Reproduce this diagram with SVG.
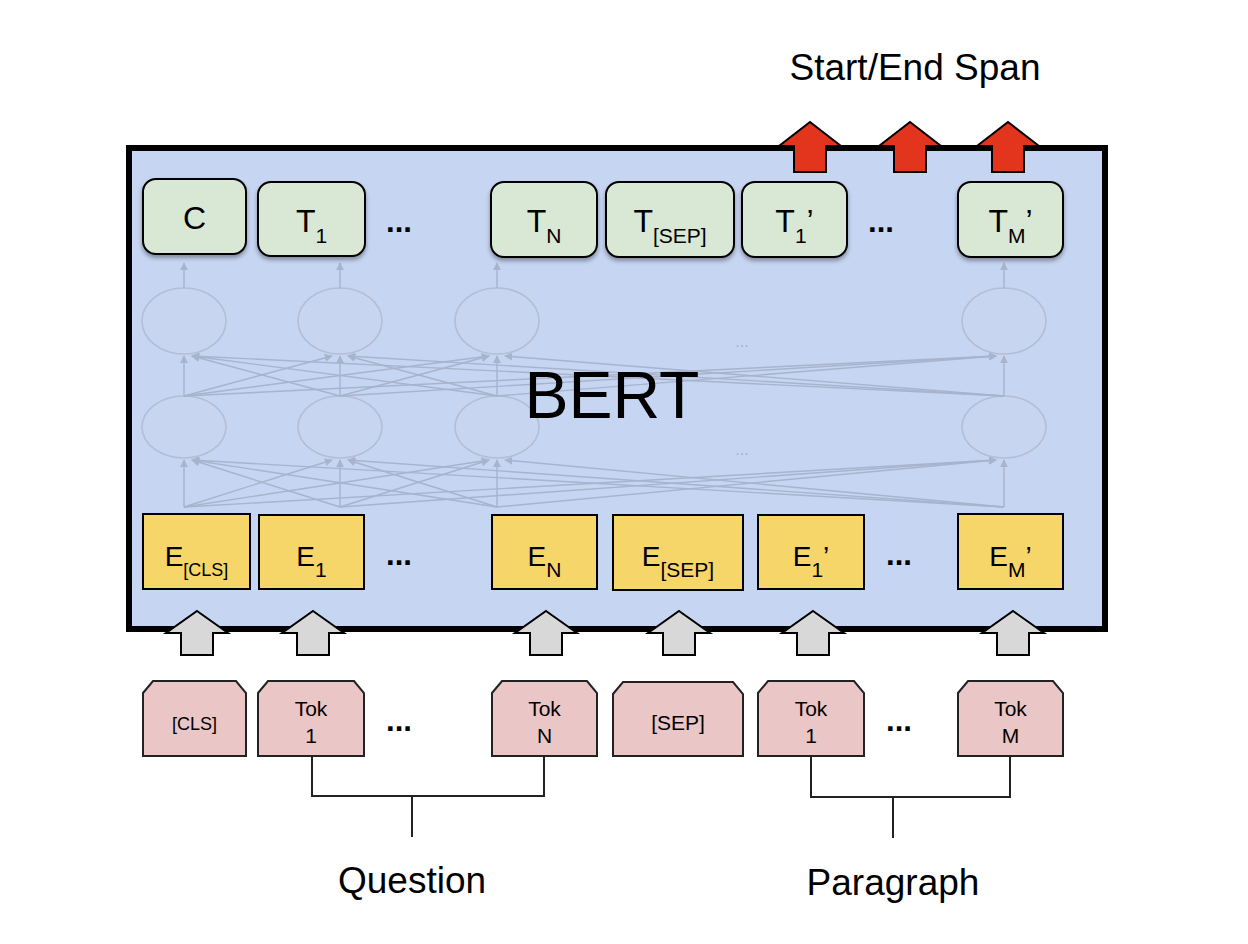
<svg xmlns="http://www.w3.org/2000/svg" width="1248" height="944" viewBox="0 0 1248 944">
<defs>
<style>
text{font-family:"Liberation Sans",Arial,Helvetica,sans-serif;fill:#000}
.tbox{fill:#d9e8d4;stroke:#000;stroke-width:2;filter:url(#sh)}
.ebox{fill:#f6d669;stroke:#000;stroke-width:2}
.tok{fill:#eac6c6;stroke:#222;stroke-width:2}
.ell{fill:#c8d5f1;stroke:#b3bdd3;stroke-width:1.6}
.net line{stroke:#a8b3cc;stroke-width:1.4;marker-end:url(#ah)}
.gar{fill:#d8d8d8;stroke:#000;stroke-width:2;stroke-linejoin:miter}
.rar{fill:#e3351e;stroke:#000;stroke-width:2;stroke-linejoin:miter}
.brk{fill:none;stroke:#222;stroke-width:2}
.big{font-size:32px}
.sub{font-size:21px}
.dots{font-size:31px;font-weight:bold}
.lab{font-size:37px}
.tk{font-size:21px}
</style>
<filter id="sh" x="-20%" y="-20%" width="140%" height="150%">
<feDropShadow dx="0" dy="3" stdDeviation="2" flood-color="#000" flood-opacity="0.35"/>
</filter>
<marker id="ah" viewBox="0 0 10 10" refX="9" refY="5" markerWidth="8" markerHeight="8" markerUnits="userSpaceOnUse" orient="auto">
<path d="M0,0 L10,5 L0,10 Z" fill="#a8b3cc"/>
</marker>
</defs>
<rect width="1248" height="944" fill="#fff"/>

<g id="bert">
<rect x="129" y="148" width="976" height="481" fill="#c6d5f2" stroke="#000" stroke-width="6"/>
</g>

<g id="network">
<ellipse class="ell" cx="184" cy="321" rx="42" ry="33"/>
<ellipse class="ell" cx="340" cy="321" rx="42" ry="33"/>
<ellipse class="ell" cx="497" cy="321" rx="42" ry="33"/>
<ellipse class="ell" cx="1004" cy="321" rx="42" ry="33"/>
<ellipse class="ell" cx="184" cy="427" rx="42" ry="31"/>
<ellipse class="ell" cx="340" cy="427" rx="42" ry="31"/>
<ellipse class="ell" cx="497" cy="427" rx="42" ry="31"/>
<ellipse class="ell" cx="1004" cy="427" rx="42" ry="31"/>
<text x="742" y="347" font-size="16" text-anchor="middle" style="fill:#a8b3cc">...</text>
<text x="742" y="455" font-size="16" text-anchor="middle" style="fill:#a8b3cc">...</text>
</g>

<g id="connectors" class="net">
<line x1="184" y1="288" x2="184" y2="263"/>
<line x1="340" y1="288" x2="340" y2="263"/>
<line x1="497" y1="288" x2="497" y2="263"/>
<line x1="1004" y1="288" x2="1004" y2="263"/>
<line x1="184" y1="396" x2="184" y2="356"/>
<line x1="340" y1="396" x2="340" y2="356"/>
<line x1="497" y1="396" x2="497" y2="356"/>
<line x1="1004" y1="396" x2="1004" y2="356"/>
<line x1="184" y1="396" x2="332" y2="356"/>
<line x1="184" y1="396" x2="489" y2="356"/>
<line x1="184" y1="396" x2="996" y2="356"/>
<line x1="340" y1="396" x2="192" y2="356"/>
<line x1="340" y1="396" x2="489" y2="356"/>
<line x1="340" y1="396" x2="996" y2="356"/>
<line x1="497" y1="396" x2="192" y2="356"/>
<line x1="497" y1="396" x2="348" y2="356"/>
<line x1="497" y1="396" x2="996" y2="356"/>
<line x1="1004" y1="396" x2="192" y2="356"/>
<line x1="1004" y1="396" x2="348" y2="356"/>
<line x1="1004" y1="396" x2="505" y2="356"/>
<line x1="184" y1="507" x2="184" y2="460"/>
<line x1="340" y1="507" x2="340" y2="460"/>
<line x1="497" y1="507" x2="497" y2="460"/>
<line x1="1004" y1="507" x2="1004" y2="460"/>
<line x1="184" y1="507" x2="332" y2="460"/>
<line x1="184" y1="507" x2="489" y2="460"/>
<line x1="184" y1="507" x2="996" y2="460"/>
<line x1="340" y1="507" x2="192" y2="460"/>
<line x1="340" y1="507" x2="489" y2="460"/>
<line x1="340" y1="507" x2="996" y2="460"/>
<line x1="497" y1="507" x2="192" y2="460"/>
<line x1="497" y1="507" x2="348" y2="460"/>
<line x1="497" y1="507" x2="996" y2="460"/>
<line x1="1004" y1="507" x2="192" y2="460"/>
<line x1="1004" y1="507" x2="348" y2="460"/>
<line x1="1004" y1="507" x2="505" y2="460"/>
</g>

<g id="bert-label">
<text x="612" y="418" font-size="66" text-anchor="middle">BERT</text>
</g>

<g id="t-row">
<g id="t-c"><rect class="tbox" x="143" y="179" width="103" height="75" rx="13"/><text class="big" x="194.5" y="229" text-anchor="middle">C</text></g>
<g id="t-1"><rect class="tbox" x="258" y="182" width="107" height="74" rx="13"/><text class="big" x="311.5" y="232" text-anchor="middle">T<tspan class="sub" dy="11">1</tspan></text></g>
<text class="dots" x="399" y="232" text-anchor="middle">...</text>
<g id="t-n"><rect class="tbox" x="491" y="182" width="106" height="75" rx="13"/><text class="big" x="544" y="232" text-anchor="middle">T<tspan class="sub" dy="11">N</tspan></text></g>
<g id="t-sep"><rect class="tbox" x="606" y="182" width="128" height="75" rx="13"/><text class="big" x="670" y="232" text-anchor="middle">T<tspan class="sub" dy="11">[SEP]</tspan></text></g>
<g id="t-1p"><rect class="tbox" x="742" y="182" width="105" height="75" rx="13"/><text class="big" x="794.5" y="232" text-anchor="middle">T<tspan class="sub" dy="11">1</tspan><tspan dy="-11">’</tspan></text></g>
<text class="dots" x="881" y="232" text-anchor="middle">...</text>
<g id="t-mp"><rect class="tbox" x="958" y="182" width="105" height="75" rx="13"/><text class="big" x="1010.5" y="232" text-anchor="middle">T<tspan class="sub" dy="11">M</tspan><tspan dy="-11">’</tspan></text></g>
</g>

<g id="e-row">
<g id="e-cls"><rect class="ebox" x="143" y="514" width="107" height="75"/><text font-size="28" x="196.5" y="566" text-anchor="middle">E<tspan font-size="18" dy="10">[CLS]</tspan></text></g>
<g id="e-1"><rect class="ebox" x="259" y="515" width="105" height="74"/><text font-size="28" x="311.5" y="566" text-anchor="middle">E<tspan class="sub" dy="11">1</tspan></text></g>
<text class="dots" x="399" y="565" text-anchor="middle">...</text>
<g id="e-n"><rect class="ebox" x="492" y="515" width="105" height="74"/><text font-size="28" x="544.5" y="566" text-anchor="middle">E<tspan class="sub" dy="11">N</tspan></text></g>
<g id="e-sep"><rect class="ebox" x="613" y="515" width="130" height="75"/><text font-size="28" x="678" y="566" text-anchor="middle">E<tspan class="sub" dy="11">[SEP]</tspan></text></g>
<g id="e-1p"><rect class="ebox" x="758" y="515" width="106" height="74"/><text font-size="28" x="811" y="566" text-anchor="middle">E<tspan class="sub" dy="11">1</tspan><tspan dy="-11">’</tspan></text></g>
<text class="dots" x="899" y="565" text-anchor="middle">...</text>
<g id="e-mp"><rect class="ebox" x="958" y="514" width="105" height="75"/><text font-size="28" x="1010.5" y="566" text-anchor="middle">E<tspan class="sub" dy="11">M</tspan><tspan dy="-11">’</tspan></text></g>
</g>

<g id="input-arrows">
<path class="gar" d="M197,611 L228,633 L213,633 L213,655 L181,655 L181,633 L166,633 Z"/>
<path class="gar" d="M313,611 L344,633 L329,633 L329,655 L297,655 L297,633 L282,633 Z"/>
<path class="gar" d="M546,611 L577,633 L562,633 L562,655 L530,655 L530,633 L515,633 Z"/>
<path class="gar" d="M679,611 L710,633 L695,633 L695,655 L663,655 L663,633 L648,633 Z"/>
<path class="gar" d="M813,611 L844,633 L829,633 L829,655 L797,655 L797,633 L782,633 Z"/>
<path class="gar" d="M1013,611 L1044,633 L1029,633 L1029,655 L997,655 L997,633 L982,633 Z"/>
</g>

<g id="output-arrows">
<path class="rar" d="M810,122 L841,146 L826,146 L826,172 L794,172 L794,146 L779,146 Z"/>
<path class="rar" d="M910,122 L941,146 L926,146 L926,172 L894,172 L894,146 L879,146 Z"/>
<path class="rar" d="M1008,122 L1039,146 L1024,146 L1024,172 L992,172 L992,146 L977,146 Z"/>
</g>

<g id="tok-row">
<g id="tok-cls"><path class="tok" d="M143,693 L153,681 L236,681 L246,693 L246,756 L143,756 Z"/><text font-size="18" x="194.5" y="730" text-anchor="middle">[CLS]</text></g>
<g id="tok-1"><path class="tok" d="M258,693 L268,681 L354,681 L364,693 L364,756 L258,756 Z"/><text class="tk" x="311" y="716" text-anchor="middle">Tok</text><text class="tk" x="311" y="743" text-anchor="middle">1</text></g>
<text class="dots" x="399" y="731" text-anchor="middle">...</text>
<g id="tok-n"><path class="tok" d="M492,693 L502,681 L587,681 L597,693 L597,756 L492,756 Z"/><text class="tk" x="544.5" y="716" text-anchor="middle">Tok</text><text class="tk" x="544.5" y="743" text-anchor="middle">N</text></g>
<g id="tok-sep"><path class="tok" d="M613,694 L623,682 L733,682 L743,694 L743,756 L613,756 Z"/><text font-size="21" x="678" y="730" text-anchor="middle">[SEP]</text></g>
<g id="tok-1p"><path class="tok" d="M758,693 L768,681 L854,681 L864,693 L864,756 L758,756 Z"/><text class="tk" x="811" y="716" text-anchor="middle">Tok</text><text class="tk" x="811" y="743" text-anchor="middle">1</text></g>
<text class="dots" x="899" y="731" text-anchor="middle">...</text>
<g id="tok-m"><path class="tok" d="M958,693 L968,681 L1053,681 L1063,693 L1063,756 L958,756 Z"/><text class="tk" x="1010.5" y="716" text-anchor="middle">Tok</text><text class="tk" x="1010.5" y="743" text-anchor="middle">M</text></g>
</g>

<g id="brackets">
<path class="brk" d="M312,756 L312,796 L544,796 L544,756 M412,796 L412,837"/>
<path class="brk" d="M811,756 L811,797 L1010,797 L1010,756 M893,797 L893,838"/>
</g>

<g id="labels">
<text class="lab" x="412" y="893" text-anchor="middle">Question</text>
<text class="lab" x="893" y="895" text-anchor="middle">Paragraph</text>
<text class="lab" x="915" y="80" text-anchor="middle">Start/End Span</text>
</g>
</svg>
